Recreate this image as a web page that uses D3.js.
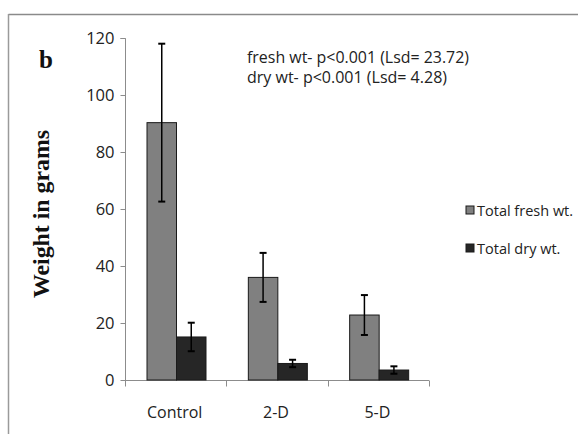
<!DOCTYPE html>
<html><head><meta charset="utf-8">
<script src="https://cdn.jsdelivr.net/npm/d3@7"></script>
<style>body{margin:0;background:#fff}svg{display:block}</style>
</head><body>
<svg id="c" width="578" height="434"></svg>
<script>
const categories = ["Control", "2-D", "5-D"];
const seriesNames = ["Total fresh wt.", "Total dry wt."];
const freshValues = [90.3, 36.0, 22.8];
const freshErrors = [27.7, 8.6, 7.0];
const dryValues = [15.1, 5.8, 3.5];
const dryErrors = [5.0, 1.3, 1.3];
const yTicks = [0, 20, 40, 60, 80, 100, 120];
const annotations = ["fresh wt- p<0.001 (Lsd= 23.72)", "dry wt- p<0.001 (Lsd= 4.28)"];

const svg = d3.select("#c");
const colors = ["#808080", "#262626"];

// frame
svg.append("line").attr("x1", 8.5).attr("x2", 578).attr("y1", 14.5).attr("y2", 14.5)
  .attr("stroke", "#8a8a8a").attr("stroke-width", 1.5);
svg.append("line").attr("x1", 8.5).attr("x2", 8.5).attr("y1", 14).attr("y2", 434)
  .attr("stroke", "#9a9a9a").attr("stroke-width", 1.5);

const x0 = d3.scaleBand().domain(categories).range([125, 429]);
const x1 = d3.scaleBand().domain(seriesNames).range([22, 81]);
const y = d3.scaleLinear().domain([0, 120]).range([380, 38]);

const font = "'Open Sans', sans-serif";
const serif = "'Liberation Serif', 'Times New Roman', serif";

// y axis
const ya = svg.append("g").attr("transform", "translate(125.5,0)")
  .call(d3.axisLeft(y).tickValues(yTicks).tickSize(5).tickPadding(6));
ya.select(".domain").attr("stroke", "#8c8c8c").attr("d", "M-5," + (y(120)+0.5) + "H0V" + (y(0)+0.5));
ya.selectAll(".tick line").attr("stroke", "#8c8c8c");
ya.selectAll(".tick text").attr("font-family", font).attr("font-size", 16.5).attr("fill", "#222");

// x axis
const xg = svg.append("g").attr("transform", "translate(0," + (y(0)+0.5) + ")");
xg.append("line").attr("x1", 125).attr("x2", 429).attr("stroke", "#8c8c8c");
const bounds = categories.map(c => x0(c)).concat([x0.range()[1]]);
xg.selectAll(".xt").data(bounds).join("line").attr("class", "xt")
  .attr("x1", d => Math.round(d) + 0.5).attr("x2", d => Math.round(d) + 0.5)
  .attr("y1", 0).attr("y2", 6).attr("stroke", "#8c8c8c");
xg.selectAll(".xl").data(categories).join("text").attr("class", "xl")
  .attr("x", d => x0(d) + x0.bandwidth() / 2 - 1).attr("y", 37)
  .attr("text-anchor", "middle").attr("font-family", font).attr("font-size", 16).attr("fill", "#222")
  .text(d => d);

// bars
const series = [
  {name: seriesNames[0], vals: freshValues, errs: freshErrors, color: colors[0]},
  {name: seriesNames[1], vals: dryValues, errs: dryErrors, color: colors[1]}
];
series.forEach(s => {
  const g = svg.append("g");
  g.selectAll("rect").data(categories).join("rect")
    .attr("x", (c) => x0(c) + x1(s.name))
    .attr("width", x1.bandwidth())
    .attr("y", (c, i) => y(s.vals[i]))
    .attr("height", (c, i) => y(0) - y(s.vals[i]))
    .attr("fill", s.color).attr("stroke", "#1a1a1a").attr("stroke-width", 1);
  const cx = c => x0(c) + x1(s.name) + x1.bandwidth() / 2;
  g.selectAll(".ev").data(categories).join("line").attr("class", "ev")
    .attr("x1", cx).attr("x2", cx)
    .attr("y1", (c, i) => y(s.vals[i] + s.errs[i])).attr("y2", (c, i) => y(s.vals[i] - s.errs[i]))
    .attr("stroke", "#000").attr("stroke-width", 1.5);
  ["+", "-"].forEach(sign => {
    g.selectAll(".cap" + (sign === "+" ? "u" : "d")).data(categories).join("line")
      .attr("class", "cap" + (sign === "+" ? "u" : "d"))
      .attr("x1", c => cx(c) - 3.5).attr("x2", c => cx(c) + 3.5)
      .attr("y1", (c, i) => y(sign === "+" ? s.vals[i] + s.errs[i] : s.vals[i] - s.errs[i]))
      .attr("y2", (c, i) => y(sign === "+" ? s.vals[i] + s.errs[i] : s.vals[i] - s.errs[i]))
      .attr("stroke", "#000").attr("stroke-width", 2);
  });
});

// annotations
svg.selectAll(".ann").data(annotations).join("text").attr("class", "ann")
  .attr("x", 247).attr("y", (d, i) => 63 + i * 20)
  .attr("font-family", font).attr("font-size", 16).attr("fill", "#222")
  .attr("textLength", (d, i) => i === 0 ? 222 : 200).attr("lengthAdjust", "spacingAndGlyphs")
  .text(d => d);

// panel label
svg.append("text").attr("x", 39).attr("y", 68).attr("font-family", serif)
  .attr("font-weight", "bold").attr("font-size", 25).attr("fill", "#111").text("b");

// y label
svg.append("text").attr("transform", "translate(49,214) rotate(-90)")
  .attr("text-anchor", "middle").attr("font-family", serif)
  .attr("font-weight", "bold").attr("font-size", 23).attr("fill", "#111")
  .attr("textLength", 168).attr("lengthAdjust", "spacingAndGlyphs")
  .text("Weight in grams");

// legend
const lg = svg.append("g").selectAll("g").data(series).join("g")
  .attr("transform", (d, i) => "translate(466," + (206 + i * 38) + ")");
lg.append("rect").attr("width", 8).attr("height", 8).attr("fill", d => d.color)
  .attr("stroke", "#1a1a1a").attr("stroke-width", 1);
lg.append("text").attr("x", 11).attr("y", 9.5).attr("font-family", font).attr("font-size", 14.5)
  .attr("fill", "#222")
  .text(d => d.name);
</script>
</body></html>
